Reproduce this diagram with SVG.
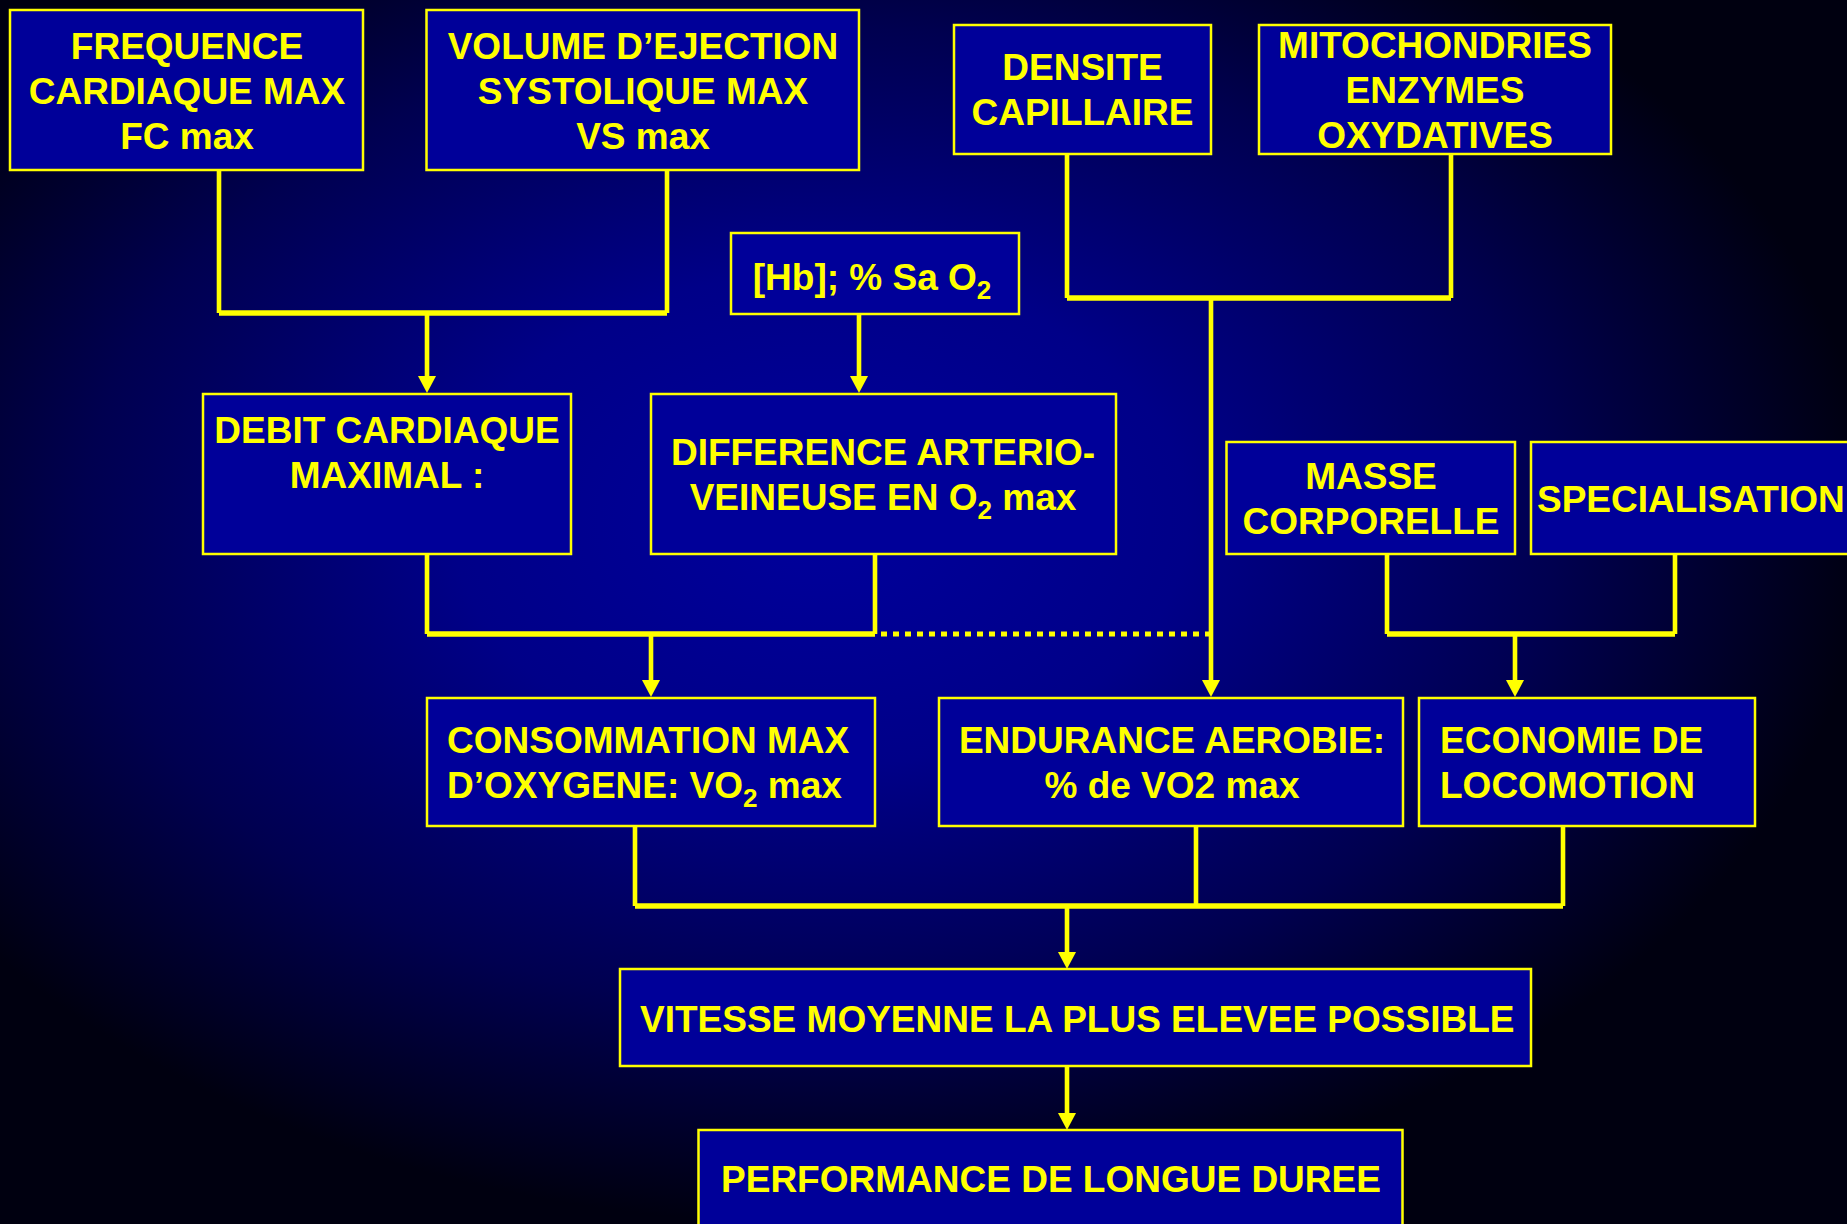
<svg xmlns="http://www.w3.org/2000/svg" width="1847" height="1224" viewBox="0 0 1847 1224">
  <defs>
    <radialGradient id="bg" gradientUnits="userSpaceOnUse" cx="820" cy="520" r="1050" gradientTransform="translate(820 520) scale(1 0.67) translate(-820 -520)">
      <stop offset="0" stop-color="#00009c"/>
      <stop offset="0.35" stop-color="#000088"/>
      <stop offset="0.7" stop-color="#000050"/>
      <stop offset="1" stop-color="#000010"/>
    </radialGradient>
    <marker id="arr" viewBox="0 0 17 18" markerWidth="17" markerHeight="18" markerUnits="userSpaceOnUse" refX="1" refY="9" orient="auto">
      <path d="M0 0 L17 9 L0 18 Z" fill="#ffff00"/>
    </marker>
    <style>
      .box { fill: #000099; stroke: #ffff00; stroke-width: 2.5; }
      .t { font-family: "Liberation Sans", Arial, sans-serif; font-weight: bold; font-size: 37px; fill: #ffff00; }
      .c { text-anchor: middle; }
      .sub { font-size: 26px; }
      .ln { fill: none; stroke: #ffff00; stroke-width: 4.6; }
      .bar { fill: none; stroke: #ffff00; stroke-width: 5.5; }
      .dot { fill: none; stroke: #ffff00; stroke-width: 5; stroke-dasharray: 6 6; }
    </style>
  </defs>
  <rect x="0" y="0" width="1847" height="1224" fill="url(#bg)"/>

  <g id="connectors">
    <path class="ln" d="M219 170 V313 M667 170 V313"/>
    <path class="bar" d="M219 313 H667"/>
    <path class="ln" d="M427 313 V377" marker-end="url(#arr)"/>
    <path class="ln" d="M859 314 V377" marker-end="url(#arr)"/>
    <path class="ln" d="M1067 154 V298 M1451 154 V298"/>
    <path class="bar" d="M1067 298 H1451"/>
    <path class="ln" d="M1211 298 V681" marker-end="url(#arr)"/>
    <path class="ln" d="M427 554 V634 M875 554 V634"/>
    <path class="bar" d="M427 634 H875"/>
    <path class="dot" d="M881 634 H1211"/>
    <path class="ln" d="M651 634 V681" marker-end="url(#arr)"/>
    <path class="ln" d="M1387 554 V634 M1675 554 V634"/>
    <path class="bar" d="M1387 634 H1675"/>
    <path class="ln" d="M1515 634 V681" marker-end="url(#arr)"/>
    <path class="ln" d="M635 826 V906 M1196 826 V906 M1563 826 V906"/>
    <path class="bar" d="M635 906 H1563"/>
    <path class="ln" d="M1067 906 V953" marker-end="url(#arr)"/>
    <path class="ln" d="M1067 1066 V1114" marker-end="url(#arr)"/>
  </g>

  <g id="fc">
    <rect class="box" x="10" y="10" width="353" height="160"/>
    <text class="t c" x="187" y="59">FREQUENCE</text>
    <text class="t c" x="187" y="104">CARDIAQUE MAX</text>
    <text class="t c" x="187" y="149">FC max</text>
  </g>
  <g id="vs">
    <rect class="box" x="426.5" y="10" width="432.5" height="160"/>
    <text class="t c" x="643" y="59">VOLUME D’EJECTION</text>
    <text class="t c" x="643" y="104">SYSTOLIQUE MAX</text>
    <text class="t c" x="643" y="149">VS max</text>
  </g>
  <g id="densite">
    <rect class="box" x="954" y="25" width="257" height="129"/>
    <text class="t c" x="1082.5" y="80">DENSITE</text>
    <text class="t c" x="1082.5" y="125">CAPILLAIRE</text>
  </g>
  <g id="mito">
    <rect class="box" x="1259" y="25" width="352" height="129"/>
    <text class="t c" x="1435" y="58">MITOCHONDRIES</text>
    <text class="t c" x="1435" y="103">ENZYMES</text>
    <text class="t c" x="1435" y="148">OXYDATIVES</text>
  </g>
  <g id="hb">
    <rect class="box" x="731" y="233" width="288" height="81"/>
    <text class="t c" x="872" y="290">[Hb]; % Sa O<tspan class="sub" dy="9">2</tspan></text>
  </g>
  <g id="debit">
    <rect class="box" x="203" y="394" width="368" height="160"/>
    <text class="t c" x="387" y="443">DEBIT CARDIAQUE</text>
    <text class="t c" x="387" y="488">MAXIMAL :</text>
  </g>
  <g id="difference">
    <rect class="box" x="651" y="394" width="465" height="160"/>
    <text class="t c" x="883" y="465">DIFFERENCE ARTERIO-</text>
    <text class="t c" x="883" y="510">VEINEUSE EN O<tspan class="sub" dy="9">2</tspan><tspan dy="-9"> max</tspan></text>
  </g>
  <g id="masse">
    <rect class="box" x="1226.5" y="442" width="288.5" height="112"/>
    <text class="t c" x="1371" y="489">MASSE</text>
    <text class="t c" x="1371" y="534">CORPORELLE</text>
  </g>
  <g id="specialisation">
    <rect class="box" x="1531" y="442" width="330" height="112"/>
    <text class="t" x="1537" y="512">SPECIALISATION</text>
  </g>
  <g id="vo2max">
    <rect class="box" x="427" y="698" width="448" height="128"/>
    <text class="t" x="447" y="753">CONSOMMATION MAX</text>
    <text class="t" x="447" y="798">D’OXYGENE: VO<tspan class="sub" dy="9">2</tspan><tspan dy="-9"> max</tspan></text>
  </g>
  <g id="endurance">
    <rect class="box" x="939" y="698" width="464" height="128"/>
    <text class="t c" x="1172" y="753">ENDURANCE AEROBIE:</text>
    <text class="t c" x="1172" y="798">% de VO2 max</text>
  </g>
  <g id="economie">
    <rect class="box" x="1419" y="698" width="336" height="128"/>
    <text class="t" x="1440" y="753">ECONOMIE DE</text>
    <text class="t" x="1440" y="798">LOCOMOTION</text>
  </g>
  <g id="vitesse">
    <rect class="box" x="620" y="969" width="911" height="97"/>
    <text class="t" x="640" y="1032">VITESSE MOYENNE LA PLUS ELEVEE POSSIBLE</text>
  </g>
  <g id="performance">
    <rect class="box" x="698.5" y="1130" width="704" height="110"/>
    <text class="t c" x="1051" y="1192">PERFORMANCE DE LONGUE DUREE</text>
  </g>
</svg>
